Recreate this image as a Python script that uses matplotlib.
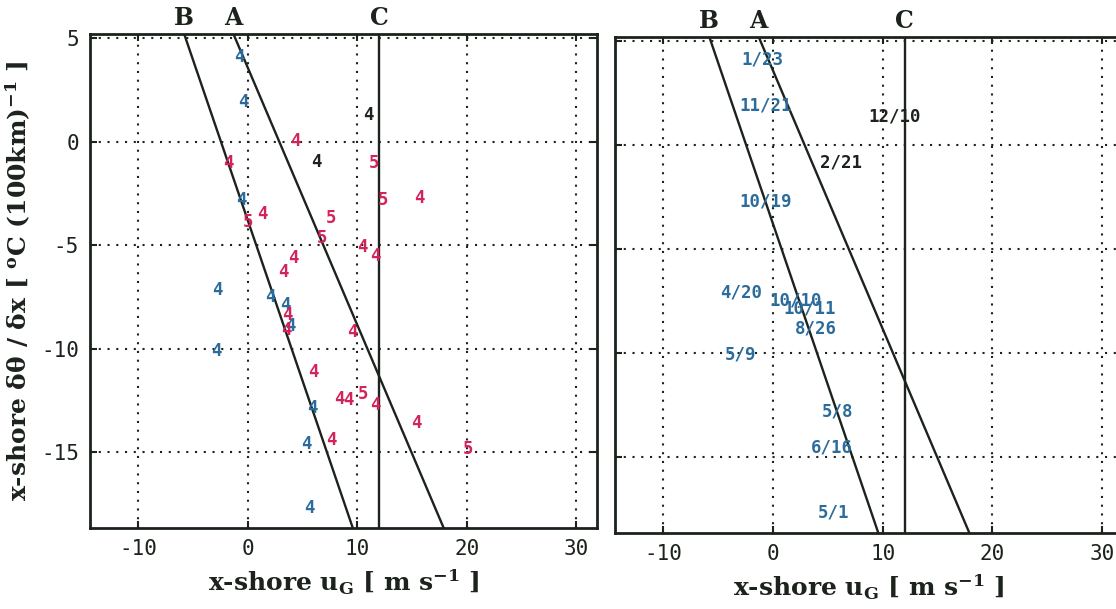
import matplotlib
matplotlib.use("Agg")
import matplotlib.pyplot as plt
import matplotlib.transforms as mtransforms

plt.rcParams['axes.unicode_minus'] = False
plt.rcParams['mathtext.fontset'] = 'custom'
plt.rcParams['mathtext.rm'] = 'DejaVu Serif:bold'
plt.rcParams['mathtext.it'] = 'DejaVu Serif:bold'
plt.rcParams['mathtext.bf'] = 'DejaVu Serif:bold'

# ---------------- data ----------------
xlim = (-14.4, 31.9)
ylim = (-18.65, 5.2)
xticks = [-10, 0, 10, 20, 30]
yticks = [5, 0, -5, -10, -15]

# reference lines (x at top, x at bottom of the y range)
line_names = ['B', 'A']
line_x_top = [-5.8, -1.3]
line_x_bot = [9.6, 17.9]
line_C_x = 12.0

# left panel: blue points
blue_x = [-0.8, -0.4, -0.6, -2.8, 2.1, 3.4, 3.9, -2.9, 5.9, 5.4, 5.65]
blue_y = [4.08, 1.9, -2.8, -7.15, -7.5, -7.9, -8.9, -10.1, -12.85, -14.6, -17.7]
blue_lbl = ['4'] * 11

# left panel: red points
red_x = [4.4, -1.75, 11.5, 12.4, 15.7, 1.3, 0.0, 7.6, 6.8, 10.5, 11.7, 4.2,
         3.3, 3.6, 3.5, 9.6, 6.0, 8.4, 9.2, 10.5, 11.7, 15.4, 7.6, 20.1]
red_y = [0.04, -1.03, -1.03, -2.8, -2.7, -3.5, -3.9, -3.7, -4.65, -5.07, -5.5, -5.6,
         -6.3, -8.35, -9.1, -9.2, -11.1, -12.4, -12.45, -12.2, -12.7, -13.6, -14.4, -14.85]
red_lbl = ['4', '4', '5', '5', '4', '4', '5', '5', '5', '4', '4', '4',
           '4', '4', '4', '4', '4', '4', '4', '5', '4', '4', '4', '5']

# left panel: black points
black_x = [11.0, 6.3]
black_y = [1.29, -1.0]
black_lbl = ['4', '4']

# right panel: dated cases
date_x = [-1.0, -0.7, 11.1, 6.2, -0.7, -2.9, 2.1, 3.3, 3.9, -3.0, 5.9, 5.4, 5.5]
date_y = [4.13, 1.9, 1.38, -0.85, -2.7, -7.1, -7.46, -7.85, -8.8, -10.07, -12.8, -14.55, -17.65]
date_lbl = ['1/23', '11/21', '12/10', '2/21', '10/19', '4/20', '10/10', '10/11',
            '8/26', '5/9', '5/8', '6/16', '5/1']
date_grp = ['b', 'b', 'k', 'k', 'b', 'b', 'b', 'b', 'b', 'b', 'b', 'b', 'b']

# ---------------- style ----------------
BLUE = '#2b6c9c'
RED = '#d2245a'
INK = '#1c221c'
grp_color = {'b': BLUE, 'k': INK}

fig = plt.figure(figsize=(11.16, 6.09), dpi=100)
axL = fig.add_axes([90 / 1116, 1 - 528 / 609, 507 / 1116, 494 / 609])
axR = fig.add_axes([615 / 1116, 1 - 533 / 609, 508 / 1116, 496 / 609])

tick_font = dict(family='DejaVu Sans Mono', size=15)
lab_font = dict(family='DejaVu Serif', size=18, weight='bold')
abc_font = dict(family='DejaVu Serif', size=17, weight='bold')
pt_font = dict(family='DejaVu Sans Mono', size=12.5, weight='bold')

for ax in (axL, axR):
    ax.set_xlim(*xlim)
    ax.set_ylim(*ylim)
    ax.set_xticks(xticks)
    ax.set_yticks(yticks)
    ax.grid(True, color=INK, linestyle=(0, (1, 3.2)), linewidth=1.5)
    ax.set_axisbelow(True)
    for s in ax.spines.values():
        s.set_linewidth(2.0)
        s.set_color(INK)
    ax.tick_params(direction='in', length=5, width=1.5, color=INK,
                   top=True, right=True, labelcolor=INK, pad=8)
    for lab in ax.get_xticklabels() + ax.get_yticklabels():
        lab.set_fontfamily(tick_font['family'])
        lab.set_fontsize(tick_font['size'])
    # lines A, B, C
    for xt, xb in zip(line_x_top, line_x_bot):
        ax.plot([xt, xb], [ylim[1], ylim[0]], color=INK, lw=1.7, zorder=3)
    ax.axvline(line_C_x, color=INK, lw=1.7, zorder=3)
    trans = mtransforms.blended_transform_factory(ax.transData, ax.transAxes)
    for name, xt in zip(line_names + ['C'], line_x_top + [line_C_x]):
        ax.text(xt, 1.033, name, transform=trans, ha='center', va='center',
                color=INK, **abc_font)
    ax.set_xlabel('x-shore u$_{\\mathrm{G}}$ [ m s$^{\\mathrm{-1}}$ ]',
                  color=INK, labelpad=6, **lab_font)

axL.set_ylabel('x-shore δθ / δx [ $^{\\mathrm{o}}$C (100km)$^{\\mathrm{-1}}$ ]',
               color=INK, labelpad=6, **lab_font)
axR.tick_params(labelleft=False)

for xs, ys, ls, c in [(blue_x, blue_y, blue_lbl, BLUE),
                      (red_x, red_y, red_lbl, RED),
                      (black_x, black_y, black_lbl, INK)]:
    for x, y, t in zip(xs, ys, ls):
        axL.text(x, y, t, color=c, ha='center', va='center', zorder=4, **pt_font)

for x, y, t, g in zip(date_x, date_y, date_lbl, date_grp):
    axR.text(x, y, t, color=grp_color[g], ha='center', va='center', zorder=4, **pt_font)

fig.savefig('out.png', dpi=100)
